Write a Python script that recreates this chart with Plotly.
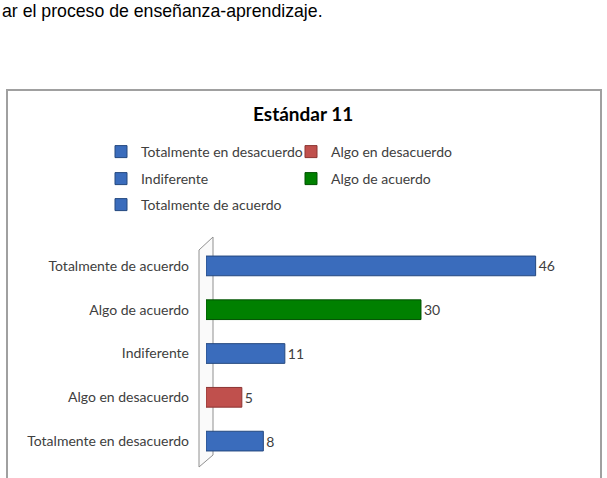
import plotly.graph_objects as go

categories = ["Totalmente en desacuerdo", "Algo en desacuerdo", "Indiferente",
              "Algo de acuerdo", "Totalmente de acuerdo"]
values = [8, 5, 11, 30, 46]
colors = ["#3a6cbc", "#c0504d", "#3a6cbc", "#008000", "#3a6cbc"]
edge_colors = ["#24487f", "#8c3432", "#24487f", "#005000", "#24487f"]
legend_rows = ["legend", "legend", "legend2", "legend2", "legend3"]
title_text = "Estándar 11"
header_text = "ar el proceso de enseñanza-aprendizaje."

W, H = 607, 478
L, R, T, B = 206, 47, 244, 15
PW, PH = W - L - R, H - T - B


def px(x):
    return (x - L) / PW


def py(y):
    return (H - B - y) / PH


FONT = "Lato, 'Open Sans', sans-serif"

fig = go.Figure()
for cat, val, col, ec, lg in zip(categories, values, colors, edge_colors, legend_rows):
    fig.add_trace(go.Bar(
        y=[cat], x=[val], orientation="h", name=cat,
        marker=dict(color=col, line=dict(color=ec, width=1)),
        width=0.45, text=[str(val)], textposition="outside",
        textfont=dict(size=14, color="#404040", family=FONT),
        cliponaxis=False, legend=lg,
    ))

leg_common = dict(orientation="h", xanchor="left", yanchor="middle",
                  font=dict(size=14, color="#404040", family=FONT),
                  entrywidth=145, bgcolor="rgba(0,0,0,0)", itemclick=False)

fig.update_layout(
    width=W, height=H,
    margin=dict(l=L, r=R, t=T, b=B),
    paper_bgcolor="white", plot_bgcolor="white",
    barmode="overlay",
    showlegend=True,
    legend=dict(x=px(101), y=py(152), **leg_common),
    legend2=dict(x=px(101), y=py(179), **leg_common),
    legend3=dict(x=px(101), y=py(205), **leg_common),
    xaxis=dict(range=[0, 49.4], showgrid=False, showticklabels=False,
               zeroline=False, showline=False, fixedrange=True),
    yaxis=dict(categoryorder="array", categoryarray=categories,
               showgrid=False, zeroline=False, showline=False,
               tickfont=dict(size=14, color="#404040", family=FONT),
               ticks="", ticklabelstandoff=16, fixedrange=True),
    font=dict(family=FONT),
    shapes=[
        # chart border
        dict(type="rect", xref="paper", yref="paper",
             x0=px(7), x1=px(601), y0=py(485), y1=py(90),
             line=dict(color="#a0a0a0", width=2), fillcolor="rgba(0,0,0,0)",
             layer="below"),
        # 3D wall
        dict(type="path", xref="paper", yref="paper",
             path=f"M {px(199)},{py(250)} L {px(213)},{py(237)} L {px(213)},{py(455)} L {px(199)},{py(467)} Z",
             line=dict(color="#909090", width=1), fillcolor="rgba(240,240,240,0.35)",
             layer="below"),
    ],
    annotations=[
        dict(text=header_text, xref="paper", yref="paper", x=px(0), y=py(11),
             xanchor="left", yanchor="middle", showarrow=False,
             font=dict(family="Liberation Sans, Arial", size=17.7, color="#000000")),
        dict(text=f"<b>{title_text}</b>", xref="paper", yref="paper", x=px(303), y=py(114),
             xanchor="center", yanchor="middle", showarrow=False,
             font=dict(family=FONT, size=19, color="#000000")),
    ],
)

fig.write_html("out.html")
